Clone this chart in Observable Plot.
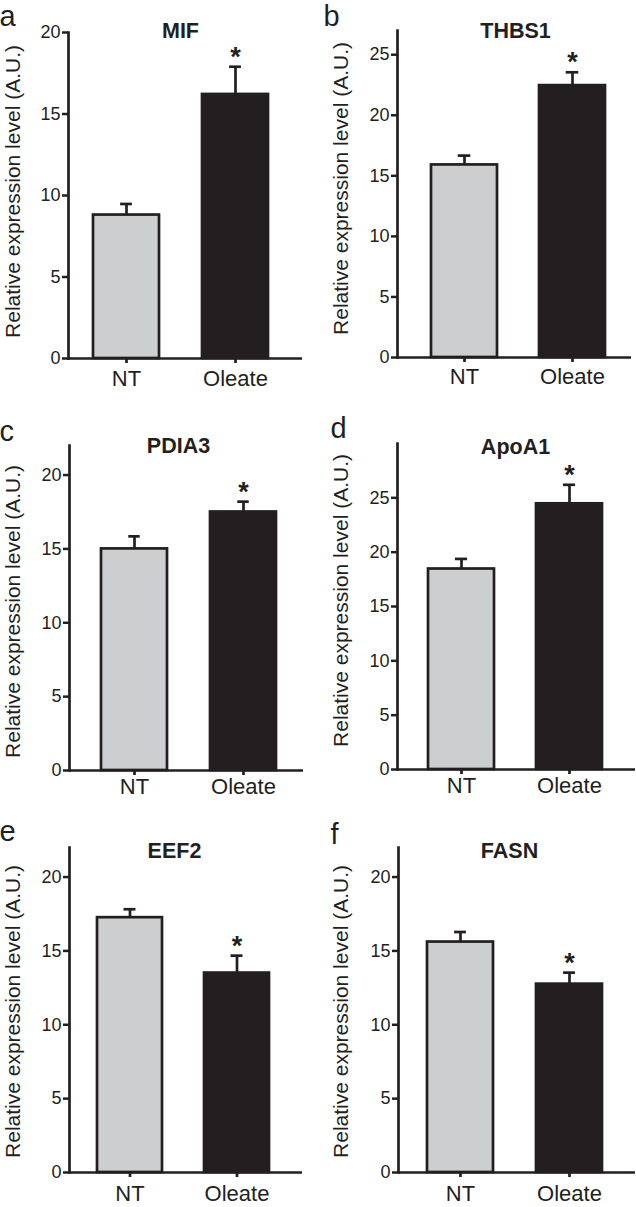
<!DOCTYPE html>
<html>
<head>
<meta charset="utf-8">
<script src="https://cdn.jsdelivr.net/npm/d3@7"></script>
<script src="https://cdn.jsdelivr.net/npm/@observablehq/plot@0.6"></script>
<style>
  body { margin: 0; background: #fff; }
  #wrap { position: relative; width: 636px; height: 1207px; overflow: hidden; }
  .panel { position: absolute; }
</style>
</head>
<body>
<div id="wrap"></div>
<script>
// ---- data ----
const panelLetters = ["a", "b", "c", "d", "e", "f"];
const genes = ["MIF", "THBS1", "PDIA3", "ApoA1", "EEF2", "FASN"];
const groups = ["NT", "Oleate"];
const ntMean = [8.8, 15.9, 15.0, 18.45, 17.25, 15.6];
const ntErr = [0.68, 0.77, 0.85, 0.93, 0.57, 0.68];
const oleateMean = [16.2, 22.45, 17.5, 24.45, 13.5, 12.75];
const oleateErr = [1.7, 1.1, 0.7, 1.75, 1.18, 0.78];
const yMax = [20, 27, 22, 30, 22, 22];
const yTicks = [
  [0, 5, 10, 15, 20],
  [0, 5, 10, 15, 20, 25],
  [0, 5, 10, 15, 20],
  [0, 5, 10, 15, 20, 25],
  [0, 5, 10, 15, 20],
  [0, 5, 10, 15, 20]
];
const oleateSignif = ["*", "*", "*", "*", "*", "*"];
const yLabel = "Relative expression level (A.U.)";

// ---- layout (positions only) ----
const layout = [
  {left: 0,   top: 0,   h: 400, mL: 68, mT: 32, mB: 42, mR: 16, bars: [93, 269],  pad: 7,  labelX: 13, labelY: 191, titleX: 180, titleY: 31, letterX: -1, letterY: 25},
  {left: 318, top: 0,   h: 400, mL: 79, mT: 30, mB: 43, mR: 5,  bars: [113, 287], pad: 6,  labelX: 23, labelY: 188, titleX: 197, titleY: 31, letterX: 5,  letterY: 25},
  {left: 0,   top: 400, h: 400, mL: 69, mT: 45, mB: 30, mR: 15, bars: [100, 277], pad: 3,  labelX: 13, labelY: 211, titleX: 178, titleY: 46, letterX: -1, letterY: 40},
  {left: 318, top: 400, h: 400, mL: 79, mT: 43, mB: 31, mR: 1,  bars: [109, 284], pad: 3,  labelX: 23, labelY: 200, titleX: 197, titleY: 47, letterX: 12, letterY: 37},
  {left: 0,   top: 800, h: 407, mL: 69, mT: 47, mB: 35, mR: 16, bars: [97, 270],  pad: 8,  labelX: 13, labelY: 211, titleX: 174, titleY: 51, letterX: -1, letterY: 40},
  {left: 318, top: 800, h: 407, mL: 80, mT: 47, mB: 35, mR: 1,  bars: [109, 285], pad: 8,  labelX: 23, labelY: 211, titleX: 191, titleY: 51, letterX: 12, letterY: 43}
];

const ink = "#231f20";
const fills = {NT: "#cdced0", Oleate: "#231f20"};
const font = "'Liberation Sans', Arial, Helvetica, sans-serif";
const pInner = 0.39;
const capWidth = 12.5;
const lw = 2.7;

const wrap = document.getElementById("wrap");

genes.forEach((gene, i) => {
  const L = layout[i];
  const rows = [
    {group: "NT", mean: ntMean[i], top: ntMean[i] + ntErr[i], sig: ""},
    {group: "Oleate", mean: oleateMean[i], top: oleateMean[i] + oleateErr[i], sig: oleateSignif[i]}
  ];
  const bw = (L.bars[1] - L.bars[0]) / (2 - pInner) * (1 - pInner);
  const capInset = (bw - capWidth) / 2;

  const chart = Plot.plot({
    width: 318,
    height: L.h,
    marginLeft: L.mL,
    marginTop: L.mT,
    marginBottom: L.mB,
    marginRight: L.mR,
    style: {fontFamily: font, background: "transparent", color: ink, overflow: "visible"},
    x: {type: "band", domain: groups, range: L.bars, paddingInner: pInner, paddingOuter: 0, axis: null},
    y: {domain: [0, yMax[i]], axis: null},
    marks: [
      Plot.barY(rows, {x: "group", y: "mean", fill: d => fills[d.group], stroke: ink, strokeWidth: lw}),
      Plot.ruleX(rows, {x: "group", y1: "mean", y2: "top", stroke: ink, strokeWidth: lw}),
      Plot.tickY(rows, {x: "group", y: "top", stroke: ink, strokeWidth: lw, insetLeft: capInset, insetRight: capInset}),
      Plot.text(rows.filter(d => d.sig), {x: "group", y: "top", text: "sig", fontSize: 27, fontWeight: "bold", lineAnchor: "bottom", dy: -1, fill: ink, fontFamily: font}),
      Plot.axisY({ticks: yTicks[i], tickSize: 6, tickPadding: 2, fontSize: 18, strokeWidth: 2.5, label: null, color: ink, fontFamily: font}),
      Plot.axisX({tickSize: 5, tickPadding: L.pad, fontSize: 22, strokeWidth: lw, label: null, color: ink, fontFamily: font}),
      Plot.frame({anchor: "left", stroke: ink, strokeWidth: lw}),
      Plot.ruleY([0], {stroke: ink, strokeWidth: lw}),
      Plot.text([gene], {frameAnchor: "top-left", dx: L.titleX - L.mL, dy: L.titleY - L.mT, fontSize: 21.5, fontWeight: "bold", fill: ink, fontFamily: font, textAnchor: "middle", lineAnchor: "middle"}),
      Plot.text([yLabel], {frameAnchor: "top-left", dx: L.labelX - L.mL, dy: L.labelY - L.mT, rotate: -90, fontSize: 21, fill: ink, fontFamily: font, textAnchor: "middle", lineAnchor: "middle"}),
      Plot.text([panelLetters[i]], {frameAnchor: "top-left", dx: L.letterX - L.mL, dy: L.letterY - L.mT, fontSize: 29, fill: ink, fontFamily: font, textAnchor: "start", lineAnchor: "bottom"})
    ]
  });
  const div = document.createElement("div");
  div.className = "panel";
  div.style.left = L.left + "px";
  div.style.top = L.top + "px";
  div.appendChild(chart);
  wrap.appendChild(div);
});
</script>
</body>
</html>
